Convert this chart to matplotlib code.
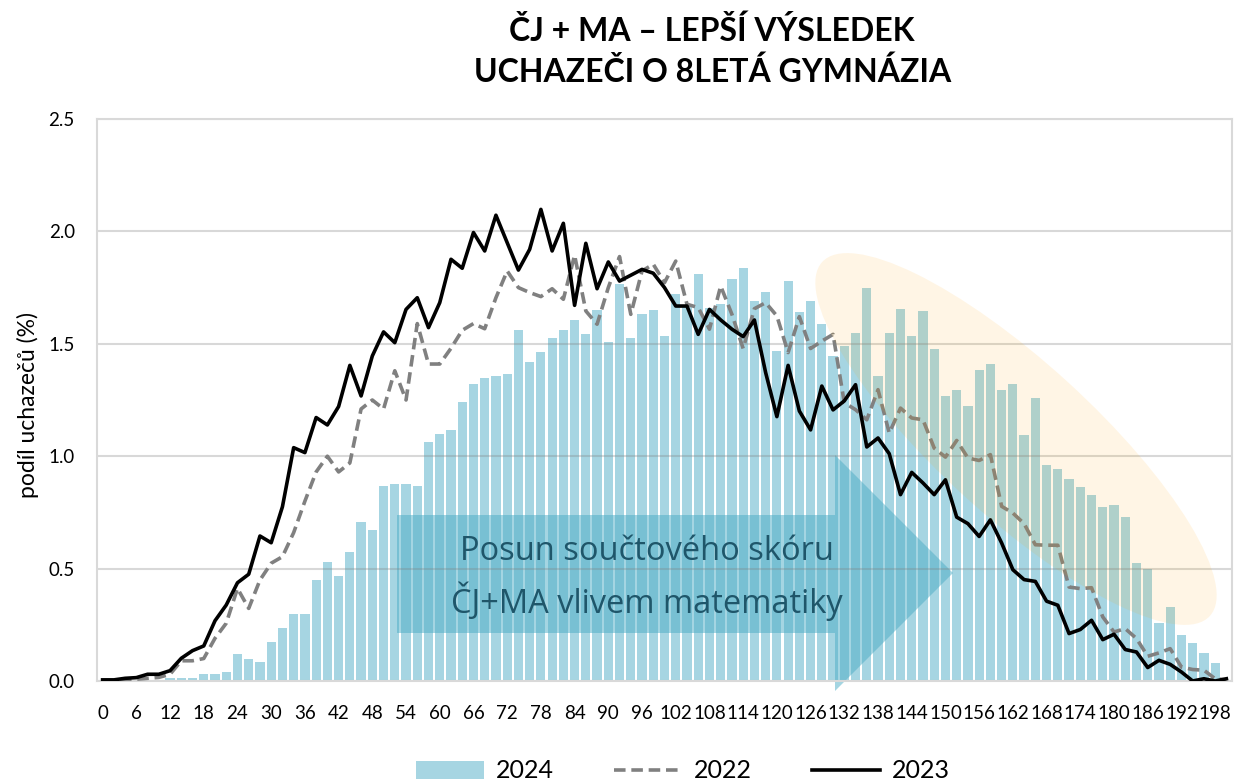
import numpy as np
import matplotlib
matplotlib.use("Agg")
import matplotlib.pyplot as plt
from matplotlib.patches import Polygon, Ellipse
from matplotlib.transforms import Affine2D

# score categories 0..200 step 2
scores = list(range(0, 201, 2))

# share of applicants (%) per score
v2024 = [0, 0, 0, 0, 0, 0, 0.013, 0.013, 0.013, 0.031, 0.031, 0.041, 0.12, 0.10, 0.086, 0.175, 0.235,
         0.297, 0.297, 0.449, 0.529, 0.467, 0.574, 0.707, 0.67, 0.866, 0.876, 0.876, 0.866, 1.063, 1.098, 1.116, 1.24, 1.32,
         1.348, 1.356, 1.365, 1.56, 1.418, 1.463, 1.525, 1.56, 1.605, 1.543, 1.65, 1.507, 1.766, 1.525, 1.632, 1.65, 1.534,
         1.72, 1.67, 1.81, 1.66, 1.676, 1.79, 1.835, 1.69, 1.73, 1.47, 1.78, 1.64, 1.69, 1.587, 1.444, 1.49,
         1.549, 1.746, 1.355, 1.55, 1.657, 1.533, 1.648, 1.479, 1.266, 1.293, 1.222, 1.382, 1.408, 1.293, 1.319, 1.096, 1.257,
         0.961, 0.943, 0.899, 0.863, 0.827, 0.774, 0.783, 0.730, 0.525, 0.498, 0.258, 0.329, 0.205, 0.169, 0.125, 0.080, 0.0]

v2022 = [0.003, 0.003, 0.006, 0.008, 0.012, 0.016, 0.03, 0.09, 0.09, 0.10, 0.190, 0.257, 0.412, 0.323, 0.449, 0.524, 0.553,
         0.66, 0.80, 0.93, 1.00, 0.93, 0.97, 1.21, 1.25, 1.21, 1.38, 1.25, 1.59, 1.41, 1.41, 1.48, 1.56, 1.59,
         1.567, 1.705, 1.824, 1.750, 1.728, 1.710, 1.745, 1.698, 1.894, 1.646, 1.587, 1.750, 1.888, 1.631, 1.824, 1.854, 1.772,
         1.868, 1.676, 1.661, 1.565, 1.757, 1.631, 1.479, 1.656, 1.683, 1.624, 1.461, 1.621, 1.479, 1.512, 1.542, 1.238,
         1.207, 1.162, 1.296, 1.103, 1.214, 1.170, 1.162, 1.036, 0.996, 1.070, 0.992, 0.981, 1.007, 0.777, 0.747, 0.700, 0.606,
         0.604, 0.604, 0.418, 0.411, 0.415, 0.285, 0.218, 0.233, 0.189, 0.110, 0.125, 0.144, 0.062, 0.051, 0.048, 0.010, 0.005]

v2023 = [0.005, 0.005, 0.012, 0.015, 0.030, 0.030, 0.046, 0.101, 0.135, 0.156, 0.268, 0.338, 0.437, 0.475, 0.645, 0.615, 0.775,
         1.038, 1.016, 1.172, 1.139, 1.221, 1.404, 1.268, 1.446, 1.553, 1.505, 1.653, 1.705, 1.572, 1.683, 1.876, 1.836, 1.995,
         1.913, 2.072, 1.950, 1.828, 1.920, 2.098, 1.913, 2.036, 1.671, 1.947, 1.745, 1.864, 1.779, 1.805, 1.831, 1.814, 1.75,
         1.668, 1.668, 1.542, 1.653, 1.606, 1.565, 1.532, 1.606, 1.372, 1.176, 1.404, 1.201, 1.117, 1.312, 1.206, 1.246,
         1.318, 1.041, 1.081, 1.011, 0.829, 0.928, 0.881, 0.829, 0.895, 0.729, 0.700, 0.643, 0.717, 0.614, 0.495, 0.451, 0.443,
         0.355, 0.337, 0.211, 0.229, 0.270, 0.184, 0.208, 0.140, 0.129, 0.060, 0.092, 0.074, 0.040, 0.000, 0.010, 0.000, 0.010]

title1 = "ČJ + MA – LEPŠÍ VÝSLEDEK"
title2 = "UCHAZEČI O 8LETÁ GYMNÁZIA"
ylabel = "podíl uchazečů (%)"
arrow_text = "Posun součtového skóru\nČJ+MA vlivem matematiky"

plt.rcParams['font.family'] = ['Lato', 'DejaVu Sans']

W, H = 1237, 783
fig = plt.figure(figsize=(W / 100, H / 100), dpi=100)
ax = fig.add_axes([97 / W, 102 / H, (1232 - 97) / W, (681 - 119) / H])
# pixel coords (origin top-left) for the drawn annotations
px = Affine2D().scale(1 / W, -1 / H).translate(0, 1) + fig.transFigure

x = np.arange(len(scores))
bar_color = '#A6D5E2'
bars = ax.bar(x, v2024, width=0.82, color=bar_color, zorder=1, label='2024')
l22, = ax.plot(x, v2022, color='#808080', lw=2.6, ls=(0, (3.2, 1.6)), zorder=3, label='2022')
l23, = ax.plot(x, v2023, color='black', lw=2.6, zorder=3, label='2023')

ax.set_xlim(-0.5, 100.5)
ax.set_ylim(0, 2.5)
ax.set_yticks(np.arange(0, 2.51, 0.5))
ax.set_yticklabels([f"{t:.1f}" for t in np.arange(0, 2.51, 0.5)])
ax.set_xticks(x[::3])
ax.set_xticklabels([str(s) for s in scores[::3]])
ax.tick_params(length=0, labelsize=13.5)
ax.tick_params(axis='x', pad=17)
ax.tick_params(axis='y', pad=16)
for s in ax.spines.values():
    s.set_color('#D9D9D9')
    s.set_linewidth(1.5)
ax.yaxis.grid(True, color='gray', alpha=0.3, lw=1.5)

# shift arrow
arrow = Polygon([(397, 515), (835, 515), (835, 455), (953, 573), (835, 691), (835, 633), (397, 633)],
                closed=True, transform=px, facecolor='#4BACC6', alpha=0.5, edgecolor='none',
                zorder=1.2, clip_on=False)
ax.add_patch(arrow)
fig.text(647 / W, 1 - 578 / H, arrow_text, ha='center', va='center', fontsize=23.5,
         color='#1F566A', family=['Open Sans', 'DejaVu Sans'], linespacing=1.4, zorder=5)

# highlight ellipse
ell = Ellipse((1016, 439), 525, 154, angle=42.4, transform=px, facecolor='orange', alpha=0.1,
              edgecolor='none', zorder=4, clip_on=False)
ax.add_patch(ell)

fig.text(712 / W, 1 - 31 / H, title1, ha='center', va='center', fontsize=23, weight='bold')
fig.text(713 / W, 1 - 72 / H, title2, ha='center', va='center', fontsize=23, weight='bold')
fig.text(28 / W, 1 - 405 / H, ylabel, rotation=90, ha='center', va='center', fontsize=16.5)

fig.legend([bars, l22, l23], ['2024', '2022', '2023'], loc='center',
           bbox_to_anchor=(683 / W, (H - 771) / H), ncol=3, frameon=False,
           fontsize=18, handlelength=2.7, handletextpad=0.5, columnspacing=2.4)

fig.savefig("out.png", dpi=100)
